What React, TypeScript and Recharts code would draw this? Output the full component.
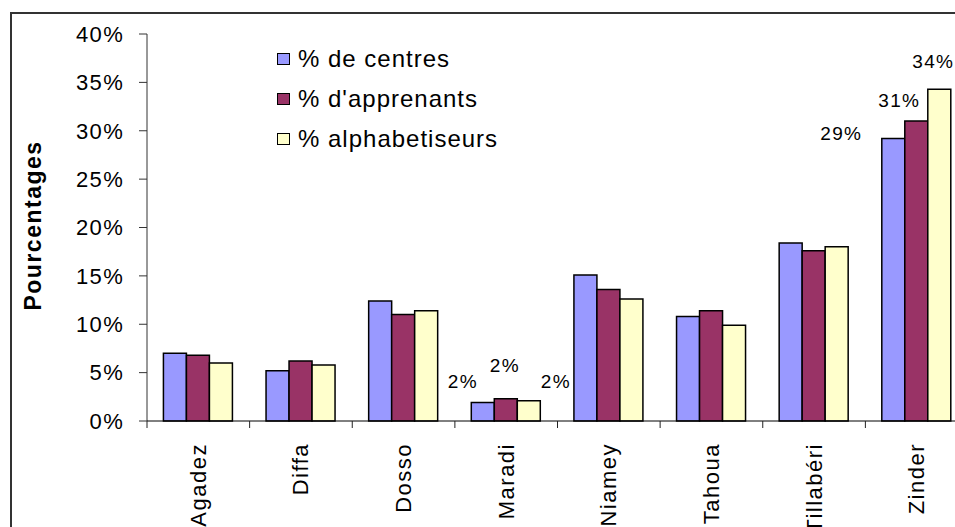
import React from "react"
import { BarChart, Bar, XAxis, YAxis, LabelList } from "recharts"

const regions = ["Agadez", "Diffa", "Dosso", "Maradi", "Niamey", "Tahoua", "Tillabéri", "Zinder"]
const centres = [7.0, 5.2, 12.4, 1.9, 15.1, 10.8, 18.4, 29.2]
const apprenants = [6.8, 6.2, 11.0, 2.3, 13.6, 11.4, 17.6, 31.0]
const alphabetiseurs = [6.0, 5.8, 11.4, 2.1, 12.6, 9.9, 18.0, 34.3]
const yTicks = [0, 5, 10, 15, 20, 25, 30, 35, 40]

const series = [
  { key: "centres", name: "% de centres", color: "#9999FF" },
  { key: "apprenants", name: "% d'apprenants", color: "#993366" },
  { key: "alphabetiseurs", name: "% alphabetiseurs", color: "#FFFFCC" },
]

// only Maradi and Zinder carry value labels, nudged away from the bar tops
const labelOffsets: Record<string, Record<string, [number, number]>> = {
  centres: { Maradi: [-20, -21], Zinder: [-52, -5] },
  apprenants: { Maradi: [-1, -33], Zinder: [-17, -21] },
  alphabetiseurs: { Maradi: [27, -19], Zinder: [-6, -28] },
}

const data = regions.map((region, i) => ({
  region,
  centres: centres[i],
  apprenants: apprenants[i],
  alphabetiseurs: alphabetiseurs[i],
}))

const FONT = "'Liberation Sans', Arial, sans-serif"
const PLOT_W = 821
const BAND = PLOT_W / regions.length

function CategoryTick(props: any) {
  const { x, y, payload } = props
  const edge = x - BAND / 2
  return (
    <g>
      <line x1={edge} x2={edge} y1={y} y2={y + 7} stroke="#222" />
      <text
        x={x}
        y={y + 22}
        transform={`rotate(-90, ${x}, ${y + 22})`}
        textAnchor="end"
        dominantBaseline="central"
        fontSize={22}
        letterSpacing={1.5}
        fontFamily={FONT}
        fill="#000"
      >
        {payload.value}
      </text>
    </g>
  )
}

function makeLabel(seriesKey: string) {
  return (props: any) => {
    const { x, y, width, value, index } = props
    const off = labelOffsets[seriesKey][regions[index]]
    if (!off) return null
    return (
      <text
        x={x + width / 2 + off[0]}
        y={y + off[1]}
        textAnchor="middle"
        dominantBaseline="central"
        fontSize={19}
        letterSpacing={1.3}
        fontFamily={FONT}
        fill="#000"
      >
        {Math.round(value)}%
      </text>
    )
  }
}

function AxisTitle(props: any) {
  const { viewBox } = props
  const cx = viewBox.x + 20.5
  const cy = viewBox.y + viewBox.height / 2 - 2
  return (
    <text
      x={cx}
      y={cy}
      transform={`rotate(-90, ${cx}, ${cy})`}
      textAnchor="middle"
      dominantBaseline="central"
      fontSize={23}
      fontWeight="bold"
      letterSpacing={1.5}
      fontFamily={FONT}
      fill="#000"
    >
      Pourcentages
    </text>
  )
}

function LegendBox() {
  return (
    <div style={{ position: "absolute", left: 277, top: 39, fontFamily: FONT, fontSize: 24, letterSpacing: 1 }}>
      {series.map((s) => (
        <div key={s.key} style={{ display: "flex", alignItems: "center", height: 40 }}>
          <span style={{ width: 11, height: 10, background: s.color, border: "1px solid #000", marginRight: 8 }} />
          <span>{s.name}</span>
        </div>
      ))}
    </div>
  )
}

export default function App() {
  return (
    <div style={{ position: "fixed", left: 0, top: 0, width: 955, height: 527, overflow: "hidden", background: "#fff", fontFamily: FONT }}>
      <div style={{ position: "absolute", left: 10, top: 12, border: "2px solid #333", background: "#fff" }}>
        <BarChart
          width={135 + PLOT_W + 20}
          height={587}
          data={data}
          margin={{ top: 20, right: 20, left: 0, bottom: 0 }}
          barCategoryGap="16%"
          barGap={0}
        >
          <YAxis
            width={135}
            domain={[0, 40]}
            ticks={yTicks}
            tickFormatter={(v) => `${v}%`}
            tickSize={8}
            tickMargin={15}
            axisLine={{ stroke: "#333" }}
            tickLine={{ stroke: "#333" }}
            tick={{ fontSize: 22, fill: "#000", fontFamily: FONT, letterSpacing: 1.3 }}
            label={<AxisTitle />}
          />
          <XAxis
            dataKey="region"
            height={180}
            interval={0}
            tickSize={0}
            tickMargin={0}
            tickLine={false}
            axisLine={{ stroke: "#000" }}
            tick={<CategoryTick />}
          />
          {series.map((s) => (
            <Bar
              key={s.key}
              dataKey={s.key}
              name={s.name}
              fill={s.color}
              stroke="#000"
              strokeWidth={1.5}
              isAnimationActive={false}
            >
              <LabelList dataKey={s.key} content={makeLabel(s.key)} />
            </Bar>
          ))}
        </BarChart>
      </div>
      <LegendBox />
    </div>
  )
}
